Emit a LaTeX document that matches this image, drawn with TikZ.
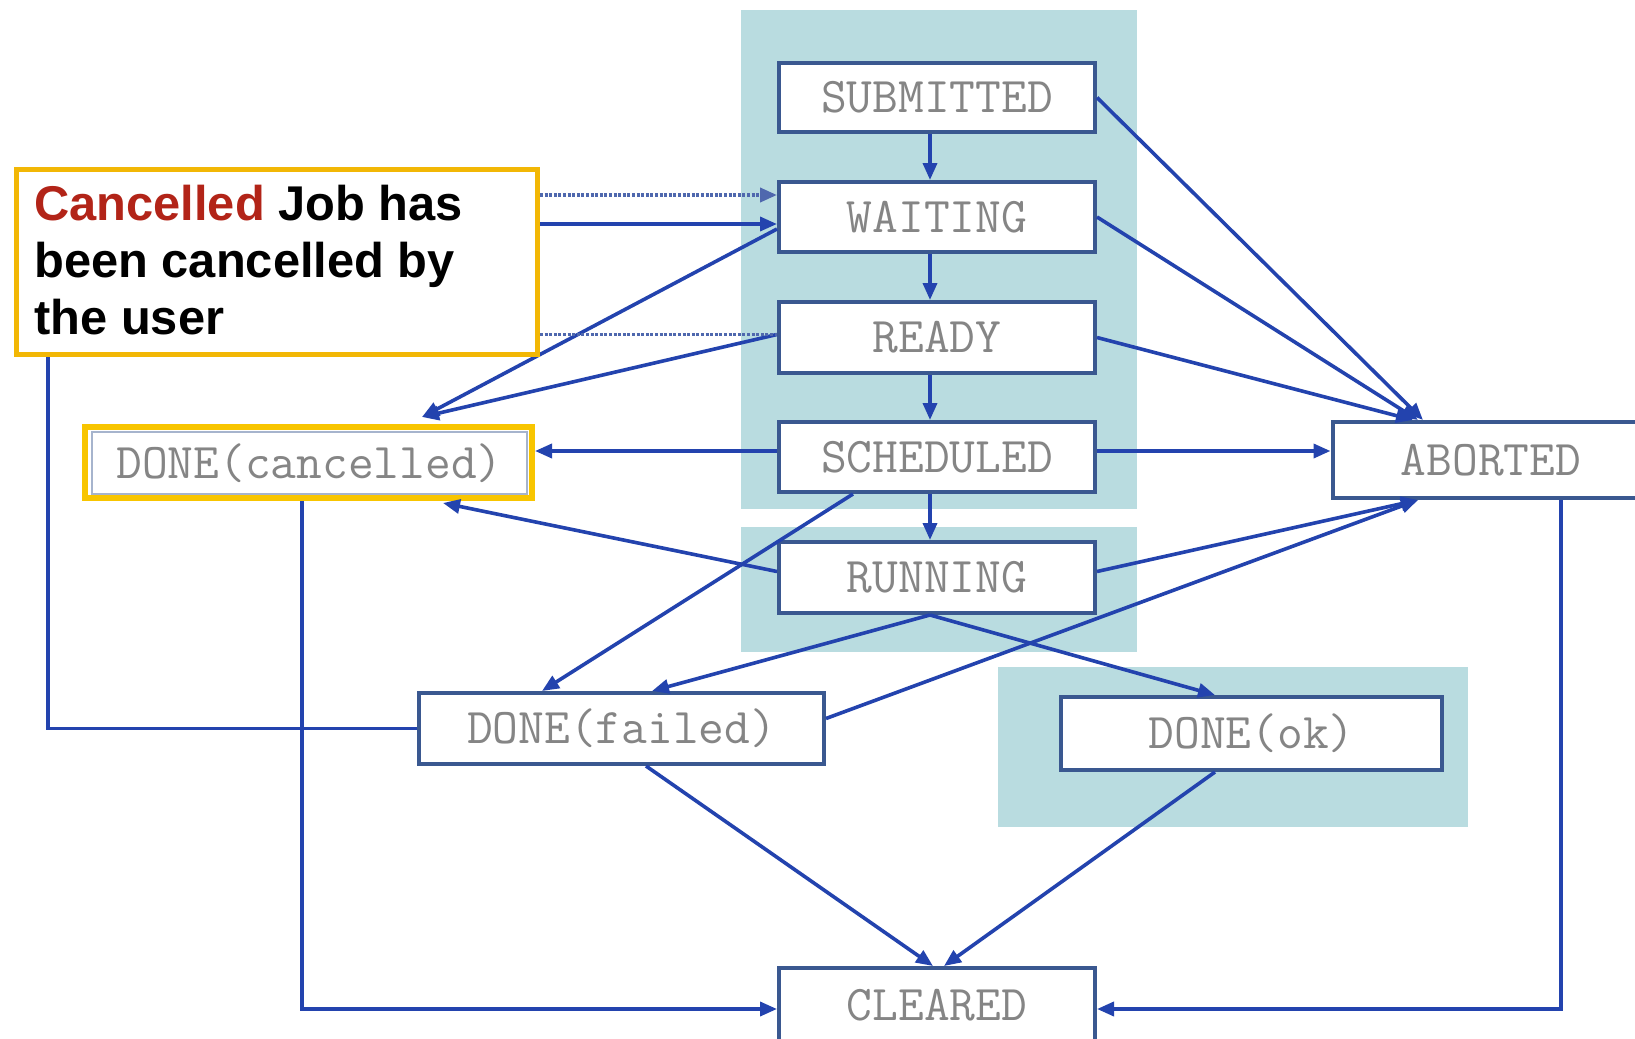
\documentclass[tikz,border=0pt]{standalone}
\usepackage{fontspec}
\usepackage{graphicx}
\newfontfamily\callfont{Liberation Sans}
\usetikzlibrary{arrows.meta,calc}
\definecolor{bgshade}{HTML}{B9DCE0}
\definecolor{boxline}{HTML}{3A5890}
\definecolor{conncol}{HTML}{2343AE}
\definecolor{boxtext}{HTML}{858585}
\definecolor{calred}{HTML}{B22418}
\definecolor{calyel}{HTML}{F2B705}
\definecolor{canyel}{HTML}{F8C500}
\definecolor{dotcol}{HTML}{4F68AE}
\begin{document}
\begin{tikzpicture}[x=0.5pt,y=-0.5pt,
  state/.style={draw=boxline,line width=2pt,fill=white,inner sep=0pt,
    font=\ttfamily\fontsize{25}{25}\selectfont,text=boxtext},
  conn/.style={draw=conncol,line width=1.8pt,-{Triangle[length=8.5pt,width=7pt]}},
  plainconn/.style={draw=conncol,line width=1.8pt},
  dotconn/.style={draw=dotcol,line width=1.9pt,dash pattern=on 1.5pt off 0.8pt}]
\useasboundingbox (0,0) rectangle (1635,1039);
\fill[white] (0,0) rectangle (1635,1039);
% shaded groups
\fill[bgshade] (741,10) rectangle (1137,509);
\fill[bgshade] (741,527) rectangle (1137,652);
\fill[bgshade] (998,667) rectangle (1468,827);
% states
\node[state,minimum width=158pt,minimum height=34.5pt] (sub) at (937,97.5) {SUBMITTED};
\node[state,minimum width=158pt,minimum height=35pt] (wai) at (937,217) {WAITING};
\node[state,minimum width=158pt,minimum height=35.5pt] (rea) at (937,337.5) {READY};
\node[state,minimum width=158pt,minimum height=35pt] (sch) at (937,457) {SCHEDULED};
\node[state,minimum width=158pt,minimum height=35.5pt] (run) at (937,577.5) {RUNNING};
\node[state,minimum width=158.5pt,minimum height=38pt] (ab) at (1491,460) {ABORTED};
\node[state,draw=boxline!45,line width=1pt,minimum width=217.5pt,minimum height=31pt] (canc) at (309.5,463) {DONE(cancelled)};
\draw[canyel,line width=3pt] ($(canc.north west)+(-6,-4)$) rectangle ($(canc.south east)+(4,3)$);
\node[state,minimum width=202.5pt,minimum height=35.5pt] (fail) at (621.5,728.5) {DONE(failed)};
\node[state,minimum width=190.5pt,minimum height=36.5pt] (ok) at (1251.5,733.5) {DONE(ok)};
\node[state,minimum width=158pt,minimum height=37pt] (cle) at (937,1005) {CLEARED};
% main chain
\draw[conn] ([xshift=-3.5pt]sub.south) -- ([xshift=-3.5pt]wai.north);
\draw[conn] ([xshift=-3.5pt]wai.south) -- ([xshift=-3.5pt]rea.north);
\draw[conn] ([xshift=-3.5pt]rea.south) -- ([xshift=-3.5pt]sch.north);
\draw[conn] ([xshift=-3.5pt]sch.south) -- ([xshift=-3.5pt]run.north);
% to ABORTED
\draw[conn] (sub.east) -- ($(ab.north)+(-68,0)$);
\draw[conn] (wai.east) -- ($(ab.north)+(-73,0)$);
\draw[conn] (rea.east) -- ($(ab.north)+(-78,0)$);
\coordinate (s12) at ([yshift=3pt]sch.east);
\coordinate (t12) at (s12 -| ab.west);
\draw[conn] (s12) -- (t12);
\draw[conn] ([yshift=3pt]run.east) -- ($(ab.south)+(-73,0)$);
\draw[conn] ([yshift=5pt]fail.east) -- ($(ab.south)+(-73,0)$);
% to DONE(cancelled)
\draw[conn] ([yshift=-6pt]wai.west) -- ($(canc.north)+(112.5,-14)$);
\draw[conn] ([yshift=1.5pt]rea.west) -- ($(canc.north)+(112.5,-14)$);
\coordinate (s7) at ([yshift=3pt]sch.west);
\coordinate (t7) at (s7 -| canc.east);
\draw[conn] (s7) -- ([xshift=3.5pt]t7);
\draw[conn] ([yshift=3pt]run.west) -- ($(canc.south)+(133.5,8)$);
% to DONE(failed) / DONE(ok)
\draw[conn] ($(sch.south)+(-84,0)$) -- ($(fail.north)+(-79.5,0)$);
\draw[conn] ($(run.south)+(-7,0)$) -- ($(fail.north)+(30.5,0)$);
\draw[conn] ($(run.south)+(-7,0)$) -- ($(ok.north)+(-36.5,0)$);
% to CLEARED
\draw[conn] ($(fail.south)+(24.5,0)$) -- ($(cle.north)+(-4,0)$);
\draw[conn] ($(ok.south)+(-36.5,0)$) -- ($(cle.north)+(7,0)$);
\draw[conn] ($(canc.south)+(-7.5,6)$) |- ([yshift=-2pt]cle.west);
\draw[conn] ($(ab.south)+(70,0)$) |- ([yshift=-2pt]cle.east);
% callout
\node[draw=calyel,line width=2.5pt,fill=white,minimum width=260.5pt,minimum height=92.5pt,inner sep=0pt] (call) at (277,262) {};
% lines coming out from under the callout
\coordinate (w3) at ([yshift=-3.5pt]wai.west);
\coordinate (w2) at ([yshift=11pt]wai.west);
\coordinate (c2) at (w2 -| call.east);
\coordinate (r6) at ([yshift=1.5pt]rea.west);
\coordinate (c6) at (r6 -| call.east);
\coordinate (c3) at (w3 -| call.east);
\draw[plainconn] (fail.west) -| ($(call.south west)+(34,0)$);
\draw[conn] (c3) -- (w3);
\draw[dotconn,-{Triangle[length=8.5pt,width=7pt]}] (c2) -- (w2);
\draw[dotconn] (c6) -- (r6);
\node[anchor=north west,inner sep=0pt,align=left,
  font=\callfont\bfseries\fontsize{24.4}{28.5}\selectfont] (calltxt) at (34,185)
  {\textcolor{calred}{Cancelled} Job has\\been cancelled by\\the user};
\end{tikzpicture}
\end{document}
